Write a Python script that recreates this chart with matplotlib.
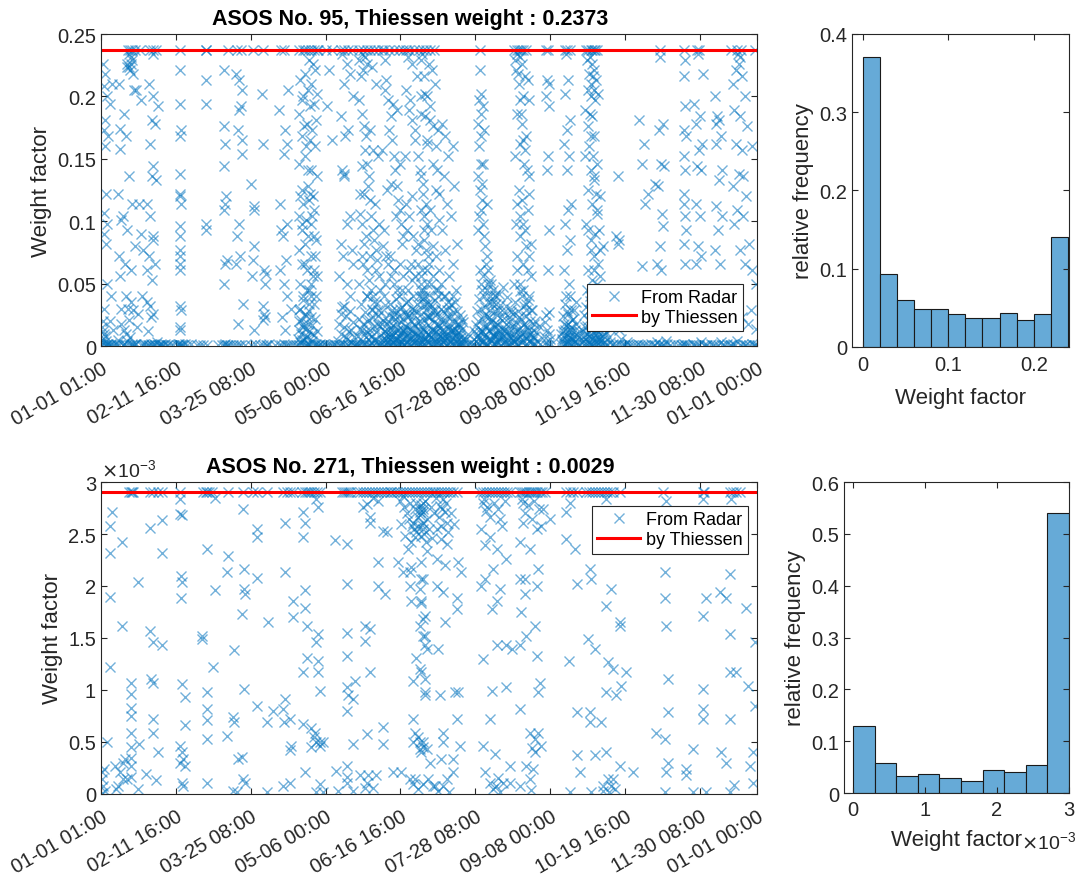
import matplotlib
matplotlib.use('Agg')
import matplotlib.pyplot as plt

plt.rcParams['font.family'] = ['Liberation Sans', 'DejaVu Sans']

# x axis: hours of the year
tick_hours = [1, 1000, 2000, 3000, 4000, 5000, 6000, 7000, 8000, 8760]
tick_labels = ['01-01 01:00', '02-11 16:00', '03-25 08:00', '05-06 00:00', '06-16 16:00',
               '07-28 08:00', '09-08 00:00', '10-19 16:00', '11-30 08:00', '01-01 00:00']

thiessen_95 = 0.2373
thiessen_271 = 0.0029

# histogram bins and relative frequencies
hist_95_edges = [0, 0.02, 0.04, 0.06, 0.08, 0.10, 0.12, 0.14, 0.16, 0.18, 0.20, 0.22, 0.24]
hist_95_freq = [0.371, 0.093, 0.060, 0.049, 0.049, 0.042, 0.037, 0.037, 0.043, 0.035, 0.042, 0.140]
hist_271_edges = [0, 0.0003, 0.0006, 0.0009, 0.0012, 0.0015, 0.0018, 0.0021, 0.0024, 0.0027, 0.0030]
hist_271_freq = [0.129, 0.057, 0.033, 0.037, 0.029, 0.024, 0.044, 0.040, 0.054, 0.541]

# radar weight factors, ASOS 95: (hour, weight) - event streaks
radar_95 = [
    (31,0.226),(53,0.218),(40,0.208),(76,0.200),(60,0.181),(45,0.173),(90,0.168),(55,0.160),(70,0.122),
    (35,0.107),(80,0.098),(48,0.090),(62,0.082),(85,0.050),(30,0.012),(50,0.008),(70,0.004),(95,0.002),
    (20,0.015),(10,0.005),(40,0.010),
    (125,0.194),(150,0.210),(140,0.040),(160,0.013),(130,0.001),(120,0.020),
    (240,0.210),(260,0.174),(250,0.158),(235,0.122),(270,0.101),(245,0.072),(255,0.056),(265,0.018),
    (240,0.001),(275,0.030),(230,0.005),
    (360,0.2373),(390,0.2373),(420,0.2373),(450,0.2373),(380,0.234),(400,0.232),(410,0.229),(350,0.226),
    (370,0.224),(395,0.221),(430,0.218),(345,0.224),(405,0.226),(440,0.205),(310,0.186),(470,0.205),
    (330,0.168),(380,0.136),(420,0.114),(300,0.104),(350,0.093),(460,0.080),(320,0.066),(400,0.061),
    (340,0.040),(430,0.029),(370,0.021),(310,0.013),(390,0.007),(450,0.002),(420,0.001),(330,0.001),
    (360,0.030),(400,0.035),
    (520,0.2373),(540,0.197),(510,0.114),(530,0.090),(560,0.077),(550,0.040),(500,0.026),(560,0.001),
    (660,0.2373),(700,0.2373),(730,0.2373),(690,0.234),(640,0.210),(700,0.200),(760,0.192),(680,0.181),
    (720,0.178),(650,0.162),(700,0.144),(680,0.136),(740,0.133),(620,0.114),(660,0.104),(700,0.088),
    (690,0.085),(640,0.072),(720,0.066),(610,0.061),(680,0.053),(650,0.032),(700,0.026),(670,0.023),
    (760,0.001),(790,0.001),(800,0.002),(630,0.001),
    (820,0.001),(860,0.002),(900,0.001),(940,0.001),
    (1060,0.2373),(1050,0.221),(1055,0.194),(1065,0.173),(1060,0.168),(1050,0.138),(1055,0.122),
    (1060,0.120),(1065,0.114),(1055,0.096),(1060,0.088),(1050,0.077),(1055,0.072),(1060,0.066),
    (1055,0.061),(1060,0.032),(1065,0.029),(1050,0.015),(1060,0.013),(1055,0.001),(1080,0.001),(1040,0.002),
    (1150,0.001),(1200,0.002),(1280,0.001),(1330,0.001),
    (1400,0.2373),(1410,0.2373),(1405,0.213),(1410,0.194),(1400,0.098),(1405,0.093),
    (1700,0.2373),(1650,0.221),(1640,0.176),(1660,0.162),(1650,0.144),(1670,0.120),(1660,0.114),
    (1650,0.109),(1680,0.069),(1660,0.066),(1650,0.050),(1640,0.001),(1700,0.001),
    (1820,0.2373),(1870,0.2373),(1800,0.218),(1850,0.213),(1880,0.205),(1870,0.192),(1840,0.189),
    (1830,0.173),(1880,0.165),(1890,0.154),(1850,0.098),(1820,0.088),(1860,0.072),(1810,0.066),
    (1900,0.034),(1830,0.018),(1800,0.001),(1870,0.001),
    (2030,0.2373),(2010,0.130),(2040,0.112),(2045,0.109),(2050,0.080),(2030,0.069),(2020,0.056),(2040,0.013),
    (2160,0.2373),(2150,0.202),(2170,0.162),(2180,0.061),(2200,0.058),(2190,0.050),(2170,0.032),
    (2180,0.026),(2190,0.023),(2170,0.021),(2160,0.001),(2200,0.001),
    (2410,0.2373),(2440,0.2373),(2500,0.205),(2380,0.189),(2460,0.173),(2480,0.162),(2450,0.154),
    (2390,0.114),(2480,0.098),(2400,0.093),(2430,0.088),(2470,0.069),(2390,0.061),(2450,0.050),
    (2480,0.040),(2420,0.023),(2460,0.013),(2380,0.001),(2500,0.001),(2540,0.030),
    (2650,0.2373),(2700,0.2373),(2730,0.2373),(2760,0.2373),(2800,0.2373),(2850,0.2373),(2880,0.2373),
    (2900,0.2373),(2780,0.229),(2830,0.226),(2720,0.218),(2860,0.221),(2800,0.210),(2760,0.205),
    (2880,0.202),(2700,0.200),(2840,0.194),(2790,0.192),(2650,0.186),(2870,0.181),(2750,0.178),
    (2820,0.173),(2680,0.168),(2790,0.165),(2860,0.160),(2720,0.152),(2650,0.146),(2800,0.141),
    (2880,0.136),(2760,0.128),(2690,0.125),(2830,0.120),(2780,0.117),(2700,0.114),(2850,0.109),
    (2650,0.104),(2740,0.101),(2810,0.098),(2680,0.093),(2760,0.088),(2870,0.085),(2720,0.082),
    (2640,0.077),(2800,0.072),(2690,0.066),(2750,0.061),(2830,0.056),(2660,0.050),(2780,0.045),
    (2700,0.040),(2850,0.034),(2640,0.029),(2730,0.026),(2800,0.023),(2670,0.021),(2760,0.018),
    (2700,0.015),(2650,0.013),(2820,0.010),(2740,0.007),(2690,0.005),(2780,0.002),(2650,0.001),
    (2720,0.001),(2860,0.001),(2900,0.001),(2930,0.002),
    (3000,0.2373),(3080,0.2373),(3050,0.221),(3020,0.192),(3090,0.165),(3000,0.001),(3060,0.001),(3110,0.002),
    (3200,0.2373),(3250,0.2373),(3300,0.2373),(3350,0.2373),(3220,0.234),(3280,0.226),(3320,0.218),
    (3240,0.210),(3360,0.200),(3200,0.184),(3300,0.173),(3260,0.168),(3220,0.141),(3240,0.138),
    (3250,0.136),(3330,0.104),(3290,0.098),(3210,0.082),(3350,0.077),(3230,0.072),(3370,0.066),
    (3180,0.056),(3280,0.050),(3320,0.040),(3250,0.032),(3200,0.026),(3340,0.013),(3270,0.007),
    (3180,0.001),(3300,0.001),(3380,0.001),
    (3450,0.2373),(3500,0.2373),(3560,0.2373),(3600,0.2373),(3650,0.2373),(3700,0.2373),(3480,0.234),
    (3530,0.232),(3560,0.226),(3620,0.224),(3500,0.221),(3680,0.210),(3450,0.197),(3600,0.173),
    (3540,0.168),(3640,0.157),(3700,0.152),(3480,0.144),(3580,0.136),(3520,0.122),(3660,0.114),
    (3460,0.106),(3720,0.098),(3540,0.088),(3600,0.072),(3500,0.066),(3680,0.061),(3440,0.050),
    (3560,0.040),(3620,0.029),(3700,0.018),(3480,0.013),(3580,0.010),(3650,0.005),(3520,0.002),
    (3450,0.001),(3600,0.001),(3720,0.001),(3560,0.020),(3640,0.023),
    (3780,0.2373),(3850,0.2373),(3920,0.2373),(3980,0.2373),(4030,0.2373),(3800,0.205),(3900,0.194),
    (3960,0.189),(3850,0.173),(3760,0.157),(4000,0.146),(3880,0.130),(3820,0.125),(3940,0.104),
    (3780,0.093),(4020,0.082),(3860,0.072),(3920,0.061),(3800,0.050),(3980,0.040),(3900,0.023),
    (3760,0.018),(4040,0.013),(3840,0.007),
    (3760,0.005),(3790,0.012),(3810,0.002),(3830,0.020),(3850,0.001),(3870,0.015),(3880,0.004),
    (3900,0.009),(3910,0.026),(3930,0.002),(3950,0.018),(3960,0.006),(3980,0.001),(3990,0.030),
    (4010,0.011),(4020,0.003),(4040,0.022),(4050,0.001),(4070,0.008),(4080,0.035),(4090,0.015),
    (4100,0.002),(4120,0.025),(4130,0.006),(4150,0.012),(4160,0.001),(4170,0.040),(4180,0.018),
    (4200,0.004),(4210,0.028),(4230,0.009),(4240,0.001),(4260,0.020),(4270,0.045),(4290,0.003),
    (4300,0.014),(4310,0.032),(4330,0.006),(4340,0.001),(4360,0.024),(4370,0.010),(4390,0.002),
    (4080,0.2373),(4120,0.2373),(4180,0.2373),(4250,0.2373),(4300,0.2373),(4100,0.232),(4150,0.226),
    (4220,0.216),(4280,0.200),(4110,0.189),(4330,0.184),(4200,0.173),(4350,0.162),(4060,0.152),
    (4260,0.141),(4160,0.120),(4310,0.104),(4090,0.093),(4240,0.082),(4370,0.072),(4140,0.066),
    (4290,0.061),(4200,0.056),(4350,0.050),(4100,0.045),(4250,0.040),(4320,0.034),(4180,0.029),
    (4070,0.026),(4380,0.023),
    (4340,0.2373),(4400,0.2373),(4450,0.2373),(4290,0.234),(4380,0.226),(4420,0.221),(4460,0.210),
    (4330,0.202),(4270,0.186),(4400,0.181),(4500,0.173),(4360,0.165),(4440,0.146),(4300,0.130),
    (4470,0.125),(4390,0.109),(4510,0.101),(4320,0.093),(4430,0.080),(4480,0.072),(4350,0.061),
    (4410,0.050),(4290,0.040),(4460,0.029),(4370,0.023),(4500,0.018),(4420,0.013),(4330,0.007),(4480,0.002),
    (4560,0.178),(4600,0.168),(4700,0.160),(4640,0.152),(4580,0.136),(4720,0.128),(4620,0.114),
    (4680,0.104),(4560,0.093),(4760,0.082),(4600,0.077),(4700,0.066),(4650,0.056),(4540,0.050),
    (4740,0.045),(4580,0.040),(4680,0.034),(4620,0.029),(4780,0.018),(4700,0.013),(4560,0.007),(4800,0.001),
    (4440,0.010),(4460,0.025),(4480,0.004),(4500,0.016),(4520,0.001),(4540,0.030),(4550,0.012),
    (4570,0.003),(4590,0.021),(4600,0.008),(4610,0.001),(4630,0.035),(4640,0.014),(4660,0.005),
    (4670,0.024),(4690,0.002),(4700,0.040),(4710,0.011),(4730,0.019),(4740,0.001),(4760,0.028),
    (4770,0.006),(4790,0.015),(4810,0.003),(4820,0.022),(4840,0.001),
    (4880,0.001),(4920,0.002),(4960,0.001),(5000,0.001),
    (5060,0.2373),(5060,0.221),(5080,0.202),(5050,0.197),(5100,0.192),(5080,0.186),(5120,0.173),
    (5070,0.168),(5100,0.146),(5040,0.136),(5090,0.130),(5060,0.125),(5150,0.114),(5080,0.109),
    (5050,0.104),(5100,0.098),(5030,0.093),(5140,0.066),(5060,0.061),(5100,0.056),(5200,0.053),
    (5080,0.050),(5160,0.045),(5120,0.040),(5220,0.034),(5180,0.023),(5250,0.018),(5300,0.013),
    (5020,0.008),(5040,0.020),(5050,0.002),(5070,0.030),(5090,0.012),(5110,0.004),(5120,0.025),
    (5140,0.001),(5160,0.016),(5170,0.035),(5190,0.006),(5210,0.022),(5220,0.001),(5240,0.010),
    (5260,0.028),(5270,0.003),(5290,0.018),(5310,0.042),(5320,0.007),(5340,0.001),(5360,0.024),
    (5380,0.013),(5400,0.004),(5410,0.032),(5430,0.009),(5450,0.001),(5460,0.020),(5480,0.027),
    (5500,0.005),(5520,0.015),(5540,0.002),
    (5520,0.2373),(5550,0.2373),(5580,0.2373),(5610,0.2373),(5640,0.2373),(5680,0.2373),(5560,0.234),
    (5600,0.232),(5620,0.226),(5540,0.221),(5660,0.216),(5700,0.213),(5580,0.210),(5640,0.200),
    (5720,0.197),(5560,0.186),(5620,0.178),(5680,0.168),(5600,0.162),(5530,0.152),(5650,0.146),
    (5720,0.136),(5580,0.125),(5620,0.117),(5700,0.109),(5540,0.098),(5660,0.093),(5600,0.088),
    (5740,0.082),(5560,0.072),(5640,0.066),(5700,0.061),(5520,0.050),(5620,0.040),(5680,0.029),
    (5580,0.023),(5650,0.018),(5720,0.013),(5600,0.007),(5780,0.002),(5800,0.020),
    (5950,0.2373),(5970,0.2373),(5960,0.213),(5980,0.210),(5950,0.200),(5990,0.192),(5970,0.152),
    (5960,0.141),(5980,0.093),(5970,0.061),(5950,0.001),(5990,0.010),(5940,0.025),
    (6200,0.2373),(6230,0.2373),(6260,0.2373),(6210,0.234),(6240,0.213),(6200,0.202),(6270,0.181),
    (6230,0.173),(6190,0.162),(6250,0.152),(6220,0.141),(6280,0.114),(6240,0.109),(6200,0.098),
    (6270,0.085),(6230,0.077),(6190,0.061),(6250,0.050),(6210,0.040),(6280,0.029),(6240,0.018),
    (6200,0.013),(6260,0.007),
    (6160,0.006),(6180,0.018),(6200,0.002),(6220,0.028),(6240,0.004),(6260,0.014),(6280,0.001),
    (6300,0.022),(6320,0.008),(6340,0.035),(6360,0.003),(6380,0.012),
    (6480,0.2373),(6510,0.2373),(6540,0.2373),(6560,0.2373),(6580,0.2373),(6600,0.2373),(6620,0.2373),
    (6530,0.232),(6560,0.226),(6590,0.221),(6520,0.218),(6570,0.216),(6610,0.213),(6550,0.210),
    (6580,0.205),(6540,0.200),(6600,0.197),(6470,0.189),(6560,0.184),(6640,0.202),(6500,0.176),
    (6590,0.168),(6520,0.160),(6460,0.152),(6620,0.146),(6540,0.141),(6580,0.133),(6500,0.125),
    (6660,0.120),(6560,0.114),(6620,0.106),(6480,0.098),(6600,0.090),(6540,0.085),(6700,0.080),
    (6580,0.072),(6640,0.066),(6500,0.061),(6560,0.053),(6620,0.045),(6680,0.040),(6520,0.029),
    (6600,0.023),(6560,0.015),(6640,0.007),(6720,0.010),
    (6450,0.004),(6470,0.015),(6490,0.001),(6520,0.008),(6550,0.002),(6580,0.012),(6610,0.001),
    (6650,0.006),(6690,0.002),(6730,0.001),(6770,0.018),(6800,0.003),(6830,0.001),
    (6900,0.136),(6880,0.088),(6920,0.085),(6900,0.082),(6860,0.045),(6940,0.040),(6880,0.023),
    (6920,0.013),(6960,0.001),(7000,0.001),(7040,0.002),(7100,0.001),
    (7180,0.181),(7250,0.162),(7230,0.146),(7300,0.122),(7260,0.114),(7220,0.064),(7300,0.001),(7200,0.001),
    (7460,0.2373),(7470,0.232),(7500,0.178),(7450,0.173),(7480,0.146),(7520,0.144),(7400,0.130),
    (7440,0.128),(7490,0.106),(7510,0.096),(7470,0.080),(7430,0.066),(7480,0.061),(7400,0.001),
    (7500,0.001),(7560,0.002),
    (7790,0.2373),(7800,0.229),(7790,0.216),(7800,0.192),(7780,0.173),(7810,0.168),(7790,0.152),
    (7800,0.141),(7780,0.122),(7790,0.114),(7800,0.104),(7810,0.093),(7790,0.082),(7800,0.066),
    (7760,0.001),(7830,0.001),
    (7960,0.2373),(7980,0.2373),(7970,0.234),(8040,0.218),(7920,0.194),(8000,0.184),(7950,0.178),
    (8030,0.162),(7990,0.157),(7960,0.144),(8010,0.141),(7940,0.114),(8000,0.104),(7970,0.080),
    (8020,0.072),(7950,0.066),(7920,0.001),(8080,0.001),
    (8200,0.200),(8230,0.184),(8260,0.181),(8210,0.178),(8280,0.168),(8220,0.162),(8300,0.141),
    (8250,0.133),(8210,0.112),(8290,0.104),(8240,0.093),(8200,0.077),(8270,0.066),(8230,0.040),
    (8180,0.001),(8300,0.001),
    (8420,0.2373),(8500,0.2373),(8550,0.2373),(8510,0.234),(8530,0.232),(8520,0.226),(8480,0.221),
    (8560,0.216),(8440,0.210),(8600,0.200),(8460,0.189),(8540,0.184),(8630,0.176),(8480,0.162),
    (8560,0.157),(8700,0.160),(8520,0.138),(8580,0.136),(8440,0.128),(8620,0.120),(8500,0.109),
    (8580,0.104),(8460,0.098),(8660,0.082),(8540,0.077),(8600,0.066),(8700,0.061),(8480,0.045),
    (8680,0.029),(8560,0.023),(8640,0.018),(8420,0.001),(8600,0.001),(8720,0.001),
    (8740,0.2373),(8750,0.050),(8745,0.014),
]

# ASOS 95: more mid-range points inside the busiest events
radar_95_extra = [
    (3440,0.229),(3470,0.216),(3490,0.186),(3510,0.176),(3530,0.157),(3550,0.146),(3570,0.128),
    (3590,0.117),(3610,0.104),(3630,0.093),(3650,0.085),(3670,0.077),(3690,0.069),(3710,0.056),
    (3730,0.045),(3460,0.122),(3490,0.098),(3520,0.082),(3550,0.061),(3580,0.053),(3610,0.045),
    (3640,0.040),(3670,0.034),(3700,0.029),(3480,0.072),
    (3760,0.2373),(3790,0.229),(3810,0.213),(3830,0.197),(3870,0.184),(3890,0.165),(3910,0.152),
    (3930,0.141),(3950,0.128),(3970,0.117),(3990,0.109),(4010,0.098),(4030,0.088),(3770,0.080),
    (3810,0.072),(3840,0.066),(3880,0.056),(3920,0.050),(3950,0.045),(3990,0.066),(4040,0.056),
    (3780,0.040),(3860,0.034),(3940,0.029),(4020,0.045),
    (4070,0.205),(4130,0.197),(4160,0.181),(4190,0.165),(4230,0.152),(4270,0.136),(4300,0.122),
    (4340,0.114),(4360,0.098),(4080,0.114),(4120,0.104),(4170,0.088),(4210,0.077),(4230,0.066),
    (4270,0.050),(4300,0.045),(4330,0.040),(4360,0.034),(4110,0.061),(4150,0.053),
    (4270,0.229),(4310,0.216),(4350,0.200),(4390,0.192),(4430,0.176),(4470,0.160),(4490,0.141),
    (4520,0.122),(4280,0.109),(4310,0.085),(4340,0.077),(4380,0.066),(4410,0.093),(4440,0.056),
    (4470,0.045),(4500,0.040),(4520,0.061),(4280,0.056),(4400,0.034),(4440,0.029),
    (5530,0.229),(5570,0.218),(5590,0.197),(5610,0.186),(5630,0.165),(5660,0.157),(5690,0.141),
    (5710,0.122),(5550,0.114),(5590,0.104),(5630,0.098),(5670,0.080),(5710,0.072),(5740,0.056),
    (5550,0.061),(5590,0.050),(5630,0.045),(5670,0.034),(5710,0.040),(5760,0.029),
    (6490,0.229),(6510,0.205),(6530,0.186),(6550,0.168),(6570,0.152),(6590,0.136),(6610,0.122),
    (6630,0.109),(6650,0.093),(6670,0.077),(6510,0.093),(6550,0.077),(6590,0.061),(6630,0.050),
    (6670,0.056),(6700,0.034),(6490,0.045),(6530,0.040),
    (2660,0.213),(2690,0.197),(2710,0.176),(2740,0.160),(2770,0.141),(2790,0.122),(2820,0.104),
    (2840,0.088),(2860,0.072),(2890,0.056),(2660,0.120),(2690,0.098),(2720,0.066),(2750,0.045),
    (2780,0.034),(2810,0.050),(2840,0.061),(2870,0.040),
    (5030,0.178),(5050,0.160),(5070,0.146),(5090,0.117),(5110,0.088),(5130,0.080),(5150,0.072),
    (5170,0.061),(5190,0.040),(5210,0.050),(5230,0.045),(5260,0.040),(5280,0.034),(5300,0.029),
]

# ASOS 95: the near-zero band (dense in summer, a thin line the rest of the year)
radar_95_low = [
    (3705,0.004),(3715,0.016),(3725,0.001),(3735,0.027),(3745,0.009),(3755,0.002),(3765,0.021),
    (3775,0.012),(3785,0.001),(3795,0.033),(3805,0.006),(3815,0.018),(3825,0.003),(3835,0.010),
    (3845,0.025),(3855,0.014),(3865,0.001),(3875,0.007),(3885,0.029),(3895,0.017),(3905,0.003),
    (3915,0.011),(3925,0.022),(3935,0.005),(3945,0.038),(3955,0.001),(3965,0.013),(3975,0.024),
    (3985,0.008),(3995,0.002),(4005,0.019),(4015,0.031),(4025,0.006),(4035,0.012),(4045,0.001),
    (4055,0.027),(4065,0.016),(4075,0.004),(4085,0.009),(4095,0.023),(4105,0.036),(4115,0.002),
    (4125,0.014),(4135,0.020),(4145,0.007),(4155,0.030),(4165,0.011),(4175,0.003),(4185,0.025),
    (4195,0.016),(4205,0.001),(4215,0.008),(4225,0.034),(4235,0.019),(4245,0.005),(4255,0.012),
    (4265,0.002),(4275,0.026),(4285,0.015),(4295,0.038),(4305,0.006),(4315,0.021),(4325,0.001),
    (4335,0.011),(4345,0.029),(4355,0.004),(4365,0.017),(4375,0.041),(4385,0.009),(4395,0.023),
    (4405,0.002),(4415,0.014),(4425,0.032),(4435,0.006),(4445,0.019),(4455,0.001),(4465,0.037),
    (4475,0.012),(4485,0.026),(4495,0.004),(4505,0.045),(4515,0.017),(4525,0.008),(4535,0.022),
    (4545,0.002),(4555,0.013),(4565,0.028),(4575,0.005),(4585,0.018),(4595,0.040),(4605,0.010),
    (4615,0.001),(4625,0.024),(4635,0.006),(4645,0.016),(4655,0.031),(4665,0.003),(4675,0.012),
    (4685,0.020),(4695,0.007),(4705,0.027),(4715,0.001),(4725,0.014),(4735,0.035),(4745,0.009),
    (4755,0.004),(4765,0.018),(4775,0.011),(4785,0.002),(4795,0.025),(4805,0.007),(4815,0.013),
    (4825,0.001),(4835,0.019),(4845,0.004),
    (4870,0.006),(4900,0.010),(4940,0.003),(4980,0.012),
    (5005,0.004),(5015,0.017),(5025,0.028),(5035,0.009),(5045,0.001),(5055,0.038),(5065,0.014),
    (5075,0.005),(5085,0.022),(5095,0.045),(5105,0.011),(5115,0.002),(5125,0.031),(5135,0.016),
    (5145,0.007),(5155,0.024),(5165,0.001),(5175,0.050),(5185,0.013),(5195,0.029),(5205,0.004),
    (5215,0.019),(5225,0.036),(5235,0.008),(5245,0.002),(5255,0.015),(5265,0.041),(5275,0.010),
    (5285,0.025),(5295,0.003),(5305,0.017),(5315,0.006),(5325,0.033),(5335,0.012),(5345,0.001),
    (5355,0.021),(5365,0.047),(5375,0.008),(5385,0.027),(5395,0.014),(5405,0.002),(5415,0.018),
    (5425,0.039),(5435,0.005),(5445,0.023),(5455,0.011),(5465,0.001),(5475,0.030),(5485,0.016),
    (5495,0.007),(5505,0.026),(5515,0.003),(5525,0.012),(5535,0.035),(5545,0.019),(5555,0.006),
    (5565,0.001),(5575,0.028),(5585,0.014),(5595,0.044),(5605,0.009),(5615,0.022),(5625,0.003),
    (5635,0.017),(5645,0.032),(5655,0.011),(5665,0.001),(5675,0.024),(5685,0.006),(5695,0.015),
    (5705,0.037),(5715,0.004),(5725,0.020),(5735,0.010),(5745,0.029),(5755,0.002),(5765,0.013),
    (5775,0.007),(5785,0.018),(5795,0.001),(5810,0.011),(5830,0.004),(5850,0.016),(5870,0.002),
    (5920,0.008),(5935,0.019),(5945,0.003),(5960,0.013),(5975,0.001),(5985,0.027),(6000,0.006),(6015,0.002),
    (6140,0.010),(6150,0.002),(6165,0.024),(6175,0.012),(6185,0.001),(6195,0.034),(6205,0.008),
    (6215,0.017),(6225,0.004),(6235,0.026),(6245,0.011),(6255,0.001),(6265,0.040),(6275,0.015),
    (6285,0.006),(6295,0.021),(6305,0.002),(6315,0.029),(6325,0.013),(6335,0.004),(6345,0.018),
    (6355,0.009),(6370,0.001),(6390,0.007),
    (6420,0.003),(6435,0.012),(6445,0.025),(6455,0.001),(6465,0.009),(6475,0.031),(6485,0.016),
    (6495,0.004),(6505,0.021),(6515,0.011),(6525,0.002),(6535,0.036),(6545,0.014),(6555,0.006),
    (6565,0.024),(6575,0.001),(6585,0.017),(6595,0.009),(6605,0.028),(6615,0.004),(6625,0.013),
    (6635,0.002),(6645,0.020),(6655,0.010),(6665,0.001),(6680,0.015),(6695,0.005),(6710,0.024),
    (6725,0.003),(6745,0.011),(6760,0.001),(6785,0.007),(6810,0.014),(6840,0.002),
    (5,0.001),(15,0.003),(25,0.020),(35,0.001),(45,0.030),(65,0.001),(85,0.002),(105,0.001),
    (135,0.002),(170,0.001),(200,0.002),(215,0.001),(290,0.001),(310,0.002),(335,0.010),(355,0.004),
    (375,0.001),(410,0.002),(440,0.001),(465,0.002),(485,0.015),(530,0.001),(580,0.002),(600,0.001),
    (615,0.035),(625,0.012),(645,0.001),(665,0.002),(685,0.001),(705,0.002),(725,0.001),(745,0.003),
    (770,0.001),(835,0.001),(880,0.001),(960,0.001),(1010,0.001),(1030,0.002),(1070,0.001),
    (1100,0.001),(1125,0.002),(1370,0.001),(1420,0.001),(1560,0.001),(1620,0.001),(1660,0.002),
    (1680,0.001),(1720,0.001),(1760,0.001),(1850,0.001),(1920,0.001),(2000,0.001),(2060,0.002),
    (2130,0.001),(2220,0.001),(2250,0.002),(2330,0.001),(2400,0.001),(2440,0.002),(2470,0.001),
    (2520,0.001),(2560,0.001),(2600,0.001),
    (2630,0.006),(2645,0.020),(2655,0.003),(2665,0.030),(2675,0.010),(2685,0.001),(2695,0.018),
    (2705,0.037),(2715,0.005),(2725,0.014),(2735,0.001),(2745,0.024),(2755,0.008),(2765,0.002),
    (2775,0.028),(2785,0.012),(2795,0.001),(2805,0.040),(2815,0.004),(2825,0.017),(2835,0.001),
    (2845,0.009),(2855,0.022),(2870,0.002),(2890,0.012),(2910,0.001),(2950,0.001),(2980,0.002),
    (3030,0.001),(3090,0.001),(3140,0.001),
    (3170,0.004),(3185,0.018),(3195,0.001),(3210,0.010),(3225,0.031),(3235,0.002),(3245,0.015),
    (3260,0.001),(3275,0.024),(3285,0.006),(3295,0.001),(3310,0.012),(3325,0.028),(3335,0.003),
    (3345,0.001),(3360,0.019),(3375,0.007),(3390,0.001),(3405,0.002),(3420,0.001),
    (3435,0.008),(3445,0.022),(3455,0.001),(3465,0.014),(3475,0.034),(3485,0.004),(3495,0.001),
    (3505,0.018),(3515,0.009),(3525,0.027),(3535,0.002),(3545,0.012),(3555,0.040),(3565,0.006),
    (3575,0.001),(3585,0.021),(3595,0.013),(3605,0.003),(3615,0.030),(3625,0.008),(3635,0.001),
    (3645,0.016),(3655,0.036),(3665,0.005),(3675,0.011),(3685,0.001),(3695,0.024),
    (6880,0.001),(6920,0.002),(6950,0.006),(6990,0.001),(7020,0.003),(7060,0.001),(7140,0.001),
    (7170,0.002),(7240,0.001),(7270,0.001),(7340,0.002),(7380,0.001),(7420,0.003),(7450,0.001),
    (7470,0.002),(7520,0.001),(7540,0.004),(7600,0.001),(7650,0.002),(7700,0.001),(7740,0.001),
    (7780,0.002),(7800,0.001),(7850,0.001),(7900,0.002),(7940,0.001),(7980,0.001),(8010,0.003),
    (8050,0.001),(8100,0.001),(8150,0.002),(8200,0.001),(8240,0.001),(8280,0.003),(8320,0.001),
    (8360,0.002),(8400,0.001),(8440,0.002),(8470,0.001),(8500,0.004),(8530,0.001),(8570,0.002),
    (8620,0.001),(8660,0.001),(8700,0.002),(8740,0.001),(8755,0.001),
]

# ASOS 95: bottom of the summer band, where the crosses pile up into a solid strip
radar_95_floor = [
    (3810,0.008),(3840,0.003),(3870,0.010),(3900,0.001),(3930,0.006),(3960,0.012),(3990,0.004),
    (4020,0.009),(4050,0.002),(4080,0.013),(4110,0.005),(4140,0.001),(4170,0.008),(4200,0.011),
    (4230,0.003),(4260,0.007),(4290,0.001),(4320,0.012),(4350,0.004),(4380,0.009),(4410,0.006),
    (4440,0.002),(4470,0.011),(4500,0.007),(4530,0.003),(4560,0.010),(4590,0.005),(4620,0.001),
    (4650,0.009),(4680,0.013),(4710,0.004),(4740,0.008),(4770,0.002),(4800,0.010),(4830,0.006),
    (5030,0.006),(5060,0.011),(5090,0.003),(5120,0.008),(5150,0.001),(5180,0.012),(5210,0.005),
    (5240,0.009),(5270,0.002),(5300,0.010),(5330,0.004),(5360,0.007),(5390,0.012),(5420,0.001),
    (5450,0.008),(5480,0.003),(5510,0.010),(5540,0.006),(5570,0.002),(5600,0.011),(5630,0.005),
    (5660,0.008),(5690,0.001),(5720,0.009),(5750,0.004),(5780,0.007),
    (6160,0.004),(6190,0.009),(6220,0.002),(6250,0.007),(6280,0.011),(6310,0.005),(6340,0.001),
    (6460,0.006),(6490,0.010),(6520,0.003),(6550,0.008),(6580,0.001),(6610,0.006),(6640,0.011),
    (6670,0.004),(6700,0.008),
]

# radar weight factors, ASOS 271: (hour, weight x 1e-3)
radar_271 = [
    (9,0.14),(20,0.21),(31,0.08),(40,0.24),(15,0.01),(53,0.03),(76,0.50),(120,1.22),(120,1.89),
    (120,2.32),(125,2.58),(142,2.71),
    (276,1.62),(276,2.42),(187,0.27),(254,0.21),(298,0.14),(231,0.08),(320,0.34),(343,0.14),(200,0.05),(300,0.30),
    (380,2.9),(400,2.9),(420,2.9),(432,2.9),
    (396,1.07),(396,0.96),(398,0.83),(396,0.75),(398,0.59),(396,0.45),(400,0.35),(398,0.27),(396,0.16),(498,0.05),
    (490,2.04),(512,0.48),
    (654,2.9),(700,2.9),(765,2.9),(810,2.9),
    (654,2.56),(654,1.57),(690,1.46),(668,1.11),(690,1.07),(690,0.72),(690,0.59),(601,0.19),(734,0.13),
    (765,0.40),(810,1.43),(810,2.32),(810,2.63),
    (1055,2.9),(1055,2.84),(1055,2.69),(1077,2.68),(1064,2.10),(1077,2.04),(1064,1.88),(1077,1.06),
    (1121,0.93),(1121,0.66),(1055,0.46),(1077,0.40),(1099,0.34),(1121,0.27),(1077,0.11),(1099,0.08),(1060,0.30),
    (1366,2.9),(1400,2.9),(1420,2.9),(1440,2.9),(1477,2.9),
    (1522,2.85),(1411,2.36),(1522,1.96),(1344,1.52),(1344,1.49),(1500,1.22),(1411,0.98),(1411,0.82),
    (1411,0.71),(1411,0.53),(1411,0.11),
    (1700,2.9),(1900,2.9),
    (1900,2.74),(1700,2.29),(1678,2.13),(1909,2.16),(1909,1.97),(1922,1.92),(1878,1.73),(1776,1.38),
    (1909,1.01),(1767,0.74),(1780,0.69),(1687,0.56),(1833,0.34),(1878,0.36),(1900,0.14),(1922,0.11),
    (1767,0.03),(1811,0.02),
    (2034,2.9),(2078,2.9),(2212,2.9),
    (2078,2.55),(2078,2.47),(2078,2.08),(2234,1.65),(2078,0.85),(2292,0.80),(2212,0.69),(2212,0.02),
    (2434,2.9),(2480,2.9),(2520,2.9),(2568,2.9),
    (2456,2.61),(2456,2.13),(2559,1.86),(2559,1.70),(2456,0.91),(2434,0.82),(2443,0.69),(2523,0.72),
    (2545,0.46),(2523,0.42),(2523,0.11),(2434,0.08),
    (2680,2.9),(2720,2.9),(2750,2.9),(2780,2.9),(2810,2.9),(2850,2.9),(2880,2.9),(2923,2.9),
    (2879,2.84),(2901,2.76),(2701,2.71),(2723,2.61),(2701,2.47),(2723,1.96),(2723,1.79),(2746,1.62),
    (2901,1.54),(2879,1.46),(2746,1.31),(2901,1.28),(2901,1.17),(2701,1.17),(2923,0.99),(2701,0.67),
    (2812,0.63),(2857,0.59),(2879,0.50),(2923,0.50),(2968,0.50),(2923,0.46),(2723,0.21),(2923,0.10),
    (2879,0.02),(2968,0.02),(2800,0.45),(2840,0.55),
    (3213,2.9),(3240,2.9),(3270,2.9),(3300,2.9),(3324,2.9),
    (3124,2.44),(3280,2.40),(3280,2.02),(3280,1.55),(3280,1.33),(3391,1.09),(3280,1.03),(3302,0.95),
    (3369,0.91),(3280,0.80),(3369,0.48),(3280,0.27),(3146,0.22),(3280,0.16),(3290,0.11),(3168,0.03),(3369,0.03),
    (3420,2.9),(3460,2.9),(3500,2.9),(3540,2.9),(3580,2.9),(3620,2.9),(3660,2.9),(3700,2.9),(3740,2.9),
    (3780,2.9),(3820,2.9),(3858,2.9),
    (3547,2.79),(3502,2.76),(3591,2.66),(3591,2.61),(3769,2.53),(3814,2.52),(3702,2.23),(3702,2.00),
    (3791,1.92),(3524,1.62),(3591,1.59),(3524,1.47),(3591,1.17),(3547,0.58),(3769,0.64),(3769,0.48),
    (3458,0.18),(3569,0.18),(3680,0.18),(3547,0.11),(3524,0.06),(3636,0.06),(3640,2.85),(3700,2.82),
    (3880,2.9),(3920,2.9),(3960,2.9),(4000,2.9),(4040,2.9),(4080,2.9),(4120,2.9),(4160,2.9),(4200,2.9),
    (4240,2.9),(4280,2.9),(4320,2.9),(4360,2.9),
    (4036,2.87),(4125,2.80),(4214,2.80),(4303,2.80),(4192,2.74),(4259,2.74),(4303,2.71),(4259,2.68),
    (4170,2.61),(4303,2.61),(4236,2.58),(4214,2.52),(4192,2.47),(4147,2.42),(3969,2.23),(4147,2.18),
    (4036,2.13),(4125,2.13),(4281,2.07),(4125,2.00),(4147,1.86),(4281,1.86),(4325,1.71),(4259,1.62),
    (4303,1.52),(4325,1.43),(4214,1.31),(4259,1.20),(4170,1.09),(4325,0.98),(4170,0.72),(4192,0.59),
    (4170,0.50),(4259,0.50),(4259,0.43),(3902,0.21),(4014,0.21),(4125,0.14),(4192,0.14),(4170,0.10),
    (4303,0.10),(4236,0.05),(4280,0.40),(4300,0.45),(4240,0.55),
    (4400,2.9),(4437,2.9),
    (4303,2.74),(4259,2.71),(4303,2.55),(4270,2.48),(4281,2.23),(4303,2.07),(4265,1.97),(4281,1.84),
    (4303,1.68),(4326,1.52),(4348,1.39),(4281,1.17),(4326,1.11),(4326,0.95),(4303,0.50),(4348,0.43),
    (4393,0.30),(4370,0.14),(4437,0.08),
    (4460,2.9),(4500,2.9),(4540,2.9),(4580,2.9),(4620,2.9),(4660,2.9),(4700,2.9),(4749,2.9),
    (4571,2.84),(4526,2.77),(4593,2.71),(4615,2.61),(4482,2.55),(4548,2.45),(4615,2.40),(4482,2.26),
    (4593,2.20),(4771,2.23),(4815,2.13),(4482,2.00),(4571,1.94),(4749,1.88),(4749,1.78),(4593,1.65),
    (4504,1.39),(4726,0.98),(4771,0.98),(4526,0.95),(4749,0.72),(4571,0.59),(4571,0.50),(4793,0.46),
    (4548,0.34),(4704,0.34),(4704,0.21),(4615,0.14),(4459,0.08),(4571,0.08),(4500,0.03),(4650,0.02),
    (5060,2.9),(5100,2.9),(5140,2.9),(5180,2.9),(5220,2.9),(5260,2.9),(5300,2.9),(5340,2.9),(5380,2.9),
    (5420,2.9),(5461,2.9),
    (5105,2.80),(5149,2.72),(5327,2.64),(5082,2.55),(5194,2.47),(5127,2.39),(5283,2.36),(5416,2.26),
    (5238,2.16),(5127,2.07),(5082,2.00),(5327,1.97),(5283,1.86),(5216,1.78),(5283,1.43),(5416,1.43),
    (5483,1.39),(5105,1.30),(5216,0.99),(5416,1.03),(5194,0.72),(5105,0.46),(5260,0.38),(5461,0.27),
    (5127,0.21),(5194,0.11),(5372,0.11),(5461,0.11),(5327,0.02),(5240,0.05),(5280,0.08),(5300,0.15),
    (5594,2.9),(5620,2.9),(5650,2.9),(5680,2.9),(5710,2.9),(5740,2.9),(5770,2.9),(5800,2.9),(5830,2.9),
    (5860,2.9),(5890,2.9),(5930,2.9),
    (5639,2.80),(5906,2.74),(5995,2.64),(5639,2.61),(5817,2.55),(5594,2.42),(5728,2.36),(5839,2.16),
    (5594,2.07),(5661,2.07),(5817,2.00),(5661,1.92),(5616,1.75),(5795,1.62),(5683,1.52),(5594,1.43),
    (5817,1.33),(5861,1.07),(5839,0.98),(5594,0.82),(5728,0.59),(5839,0.59),(5795,0.53),(5883,0.46),
    (5683,0.27),(5772,0.24),(5728,0.14),(5594,0.08),(5800,0.40),(5760,0.44),(5740,0.04),
    (6217,2.9),(6260,2.9),(6300,2.9),(6351,2.9),
    (6262,2.80),(6217,2.71),(6217,2.45),(6328,2.36),(6351,2.02),(6253,1.28),(6351,0.79),(6351,0.37),
    (6395,0.21),(6262,0.02),
    (6484,2.9),(6520,2.9),(6560,2.9),(6600,2.9),(6640,2.9),(6680,2.9),(6720,2.9),(6760,2.9),(6800,2.9),
    (6840,2.9),(6929,2.9),
    (6751,2.84),(6529,2.16),(6551,2.07),(6818,1.97),(6751,1.81),(6929,1.65),(6929,1.62),(6506,1.49),
    (6595,1.39),(6773,1.27),(6840,1.20),(7018,1.17),(6951,1.04),(6751,0.98),(6885,0.95),(6529,0.79),
    (6684,0.69),(6529,0.69),(6751,0.40),(6595,0.37),(6929,0.27),(7107,0.21),(6773,0.14),(6840,0.14),
    (6818,0.08),(6707,0.08),(6551,0.02),(6700,0.03),(6780,0.02),(6860,0.05),
    (7508,2.9),(7530,2.13),(7530,1.88),(7552,1.62),(7574,1.11),(7574,0.79),(7419,0.59),(7530,0.53),
    (7574,0.30),(7552,0.21),(7530,0.02),(7540,2.82),
    (8042,2.9),(8060,2.9),
    (8042,2.84),(8086,1.88),(8042,1.71),(8042,1.01),(8042,0.82),(8042,0.72),(7908,0.43),(7819,0.24),
    (7819,0.18),(7908,0.02),(8086,0.02),
    (8398,2.9),(8440,2.9),(8480,2.9),(8531,2.9),
    (8420,2.84),(8398,2.12),(8264,1.94),(8353,1.88),(8620,1.79),(8398,1.54),(8731,1.46),(8398,1.17),
    (8487,1.17),(8642,1.04),(8731,0.85),(8398,0.72),(8286,0.40),(8709,0.40),(8665,0.27),(8709,0.11),
    (8398,0.02),(8350,0.30),(8450,0.09),
]

# ASOS 271: the crowded band just under the Thiessen line in summer
radar_271_extra = [
    (3990,2.82),(4050,2.76),(4090,2.70),(4110,2.64),(4150,2.58),(4180,2.55),(4230,2.66),(4270,2.78),
    (4290,2.59),(4320,2.50),(4340,2.42),(4360,2.34),(4010,2.60),(4060,2.48),(4100,2.36),
    (4330,2.82),(4350,2.64),(4380,2.55),(4410,2.76),(4420,2.46),(4450,2.70),(4470,2.85),(4510,2.66),
    (4540,2.58),(4560,2.74),(4610,2.80),(4640,2.52),(4680,2.70),(4720,2.60),
    (5120,2.84),(5160,2.76),(5200,2.66),(5250,2.80),(5300,2.74),(5350,2.58),(5400,2.82),
    (5620,2.84),(5660,2.70),(5700,2.78),(5750,2.64),(5790,2.82),(5850,2.74),(5880,2.58),
]

pts_95 = radar_95 + radar_95_extra + radar_95_low + radar_95_floor
pts_271 = radar_271 + radar_271_extra
hours_95 = [p[0] for p in pts_95]
w_95 = [p[1] for p in pts_95]
hours_271 = [p[0] for p in pts_271]
w_271 = [p[1] * 1e-3 for p in pts_271]

blue = '#0072BD'
dark = '#262626'
bar_color = '#66AAD7'

fig = plt.figure(figsize=(10.81, 8.79), dpi=100)
ax1 = fig.add_axes([0.0934, 0.6052, 0.6068, 0.3549])
ax2 = fig.add_axes([0.7882, 0.6041, 0.2007, 0.3561])
ax3 = fig.add_axes([0.0934, 0.0956, 0.6068, 0.3549])
ax4 = fig.add_axes([0.7808, 0.0967, 0.2081, 0.3538])


def style(ax):
    for s in ax.spines.values():
        s.set_color(dark)
        s.set_linewidth(0.8)
    ax.tick_params(direction='in', length=4, width=0.8, colors=dark, labelsize=14.5,
                   top=True, right=True)


def scatter_panel(ax, hours, w, line_val, title):
    ax.plot(hours, w, 'x', color=blue, alpha=0.55, ms=6.5, mew=1.0, linestyle='none',
            label='From Radar')
    ax.plot([1, 8760], [line_val, line_val], color='red', lw=2.2, label='by Thiessen')
    ax.set_xlim(1, 8760)
    ax.set_xticks(tick_hours)
    ax.set_xticklabels(tick_labels, rotation=30, ha='right', rotation_mode='anchor')
    ax.set_ylabel('Weight factor', fontsize=16, color=dark)
    ax.text(0.471, 1.015, title, transform=ax.transAxes, ha='center', va='bottom',
            fontsize=15.5, fontweight='bold')
    style(ax)
    ax.tick_params(axis='x', pad=9)


scatter_panel(ax1, hours_95, w_95, thiessen_95, 'ASOS No. 95, Thiessen weight : 0.2373')
ax1.set_ylim(0, 0.25)
ax1.set_yticks([0, 0.05, 0.1, 0.15, 0.2, 0.25])
ax1.set_yticklabels(['0', '0.05', '0.1', '0.15', '0.2', '0.25'])
leg = ax1.legend(loc='lower right', bbox_to_anchor=(0.979, 0.048), borderaxespad=0,
                 fancybox=False, edgecolor=dark, framealpha=1, fontsize=13,
                 handlelength=2.4, borderpad=0.3, labelspacing=0.15, handletextpad=0.3)
leg.get_frame().set_linewidth(0.8)

scatter_panel(ax3, hours_271, w_271, thiessen_271, 'ASOS No. 271, Thiessen weight : 0.0029')
ax3.set_ylim(0, 0.003)
ax3.set_yticks([0, 0.0005, 0.001, 0.0015, 0.002, 0.0025, 0.003])
ax3.set_yticklabels(['0', '0.5', '1', '1.5', '2', '2.5', '3'])
ax3.text(0, 1.005, r'$\times\mathregular{10^{-3}}$', transform=ax3.transAxes,
         ha='left', va='bottom', fontsize=14, color=dark)
leg = ax3.legend(loc='upper right', bbox_to_anchor=(0.986, 0.923), borderaxespad=0,
                 fancybox=False, edgecolor=dark, framealpha=1, fontsize=13,
                 handlelength=2.4, borderpad=0.3, labelspacing=0.15, handletextpad=0.3)
leg.get_frame().set_linewidth(0.8)

# histograms
w95 = [hist_95_edges[i + 1] - hist_95_edges[i] for i in range(len(hist_95_freq))]
ax2.bar(hist_95_edges[:-1], hist_95_freq, width=w95, align='edge', color=bar_color,
        edgecolor='#1a1a1a', linewidth=0.8)
ax2.set_xlim(-0.0125, 0.2412)
ax2.set_ylim(0, 0.4)
ax2.set_xticks([0, 0.1, 0.2])
ax2.set_xticklabels(['0', '0.1', '0.2'])
ax2.set_yticks([0, 0.1, 0.2, 0.3, 0.4])
ax2.set_yticklabels(['0', '0.1', '0.2', '0.3', '0.4'])
ax2.set_xlabel('Weight factor', fontsize=16, color=dark, labelpad=9)
ax2.set_ylabel('relative frequency', fontsize=16, color=dark)
style(ax2)
ax2.tick_params(axis='x', pad=6)

w271 = [hist_271_edges[i + 1] - hist_271_edges[i] for i in range(len(hist_271_freq))]
ax4.bar(hist_271_edges[:-1], hist_271_freq, width=w271, align='edge', color=bar_color,
        edgecolor='#1a1a1a', linewidth=0.8)
ax4.set_xlim(-0.000125, 0.003)
ax4.set_ylim(0, 0.6)
ax4.set_xticks([0, 0.001, 0.002, 0.003])
ax4.set_xticklabels(['0', '1', '2', '3'])
ax4.set_yticks([0, 0.1, 0.2, 0.3, 0.4, 0.5, 0.6])
ax4.set_yticklabels(['0', '0.1', '0.2', '0.3', '0.4', '0.5', '0.6'])
ax4.set_xlabel('Weight factor', fontsize=16, color=dark, labelpad=7)
ax4.set_ylabel('relative frequency', fontsize=16, color=dark)
style(ax4)
ax4.tick_params(axis='x', pad=5)
ax4.text(1.03, -0.19, r'$\times\mathregular{10^{-3}}$', transform=ax4.transAxes,
         ha='right', va='bottom', fontsize=14, color=dark)

fig.savefig('out.png', dpi=100)
